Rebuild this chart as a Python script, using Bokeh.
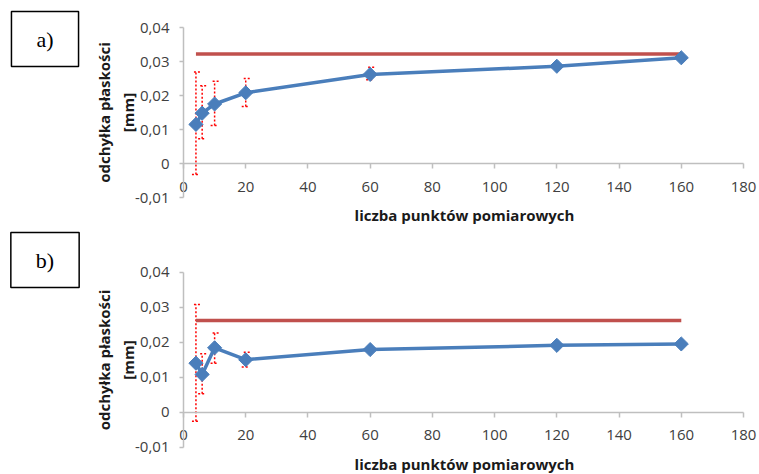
import numpy as np
from bokeh.plotting import figure
from bokeh.models import (Range1d, LinearAxis, FixedTicker, CustomJSTickFormatter,
                          Whisker, ColumnDataSource, Label, TeeHead)
from bokeh.layouts import column
from bokeh.embed import file_html
from bokeh.resources import INLINE

# ---- data ----
points = [4, 6, 10, 20, 60, 120, 160]

dev_a = [0.0115, 0.0148, 0.0175, 0.0208, 0.0262, 0.0286, 0.0311]
err_lo_a = [-0.0032, 0.0073, 0.0112, 0.0168, 0.0246, 0.0282, 0.0308]
err_hi_a = [0.0269, 0.0229, 0.0242, 0.0250, 0.0283, 0.0290, 0.0314]
limit_a = 0.0322

dev_b = [0.0140, 0.0108, 0.0184, 0.0150, 0.0179, 0.0191, 0.0195]
err_lo_b = [-0.0026, 0.0053, 0.0140, 0.0129, 0.0176, 0.0188, 0.0192]
err_hi_b = [0.0308, 0.0167, 0.0226, 0.0171, 0.0182, 0.0194, 0.0198]
limit_b = 0.0262

x_ticks = [0, 20, 40, 60, 80, 100, 120, 140, 160, 180]
y_ticks = [-0.01, 0.0, 0.01, 0.02, 0.03, 0.04]

x_title = "liczba punktów pomiarowych"
y_title = "odchyłka płaskości\n[mm]"
panel_tags = ["a)", "b)"]

BLUE = "#4A7EBB"
RED = "#C0504D"
ERR = "#FF0000"
TXT = "#404040"
AX = "#BFBFBF"
FONT = "Open Sans"
W = 759

fmt = CustomJSTickFormatter(code="""
if (Math.abs(tick) < 1e-9) return "0";
return tick.toFixed(2).replace(".", ",");
""")

# pixel layout of the plotting area (x: 0 -> 183 px, 180 -> 743 px)
X0_PX, X1_PX = 183.0, 743.0


def make_panel(tag, dev, lo, hi, limit, height, ytop_px, ybot_px, title_px, tag_box):
    xs = (X1_PX - X0_PX) / (x_ticks[-1] - x_ticks[0])
    ys = (ybot_px - ytop_px) / (y_ticks[-1] - y_ticks[0])
    def dx(px):
        return x_ticks[0] + (px - X0_PX) / xs
    def dy(py):
        return y_ticks[-1] - (py - ytop_px) / ys

    p = figure(width=W, height=height, output_backend="svg", toolbar_location=None,
               x_range=Range1d(dx(0), dx(W)), y_range=Range1d(dy(height), dy(0)),
               x_axis_location=None, y_axis_location=None,
               min_border=0, min_border_left=0, min_border_right=0,
               min_border_top=0, min_border_bottom=0)
    p.outline_line_color = None
    p.grid.visible = False
    p.background_fill_color = "white"
    p.border_fill_color = "white"

    # y axis crossing at x = 0
    ya = LinearAxis(fixed_location=x_ticks[0], bounds=(y_ticks[0], y_ticks[-1]),
                    ticker=FixedTicker(ticks=y_ticks), formatter=fmt)
    ya.axis_line_color = AX
    ya.axis_line_width = 1.5
    ya.major_tick_line_color = AX
    ya.major_tick_line_width = 1.5
    ya.major_tick_in = 0
    ya.major_tick_out = 4
    ya.minor_tick_line_color = None
    ya.major_label_standoff = 10
    ya.major_label_text_font = FONT
    ya.major_label_text_font_size = "15px"
    ya.major_label_text_color = TXT
    ya.axis_label = y_title
    ya.axis_label_text_font = FONT
    ya.axis_label_text_font_style = "bold"
    ya.axis_label_text_font_size = "15px"
    ya.axis_label_text_color = "#1a1a1a"
    ya.axis_label_standoff = -6
    p.add_layout(ya, "left")

    # x axis crossing at y = 0
    xa = LinearAxis(fixed_location=0, bounds=(x_ticks[0], x_ticks[-1]),
                    ticker=FixedTicker(ticks=x_ticks))
    xa.axis_line_color = AX
    xa.axis_line_width = 1.5
    xa.major_tick_line_color = AX
    xa.major_tick_line_width = 1.5
    xa.major_tick_in = 0
    xa.major_tick_out = 5
    xa.minor_tick_line_color = None
    xa.major_label_standoff = 13
    xa.major_label_text_font = FONT
    xa.major_label_text_font_size = "15px"
    xa.major_label_text_color = TXT
    p.add_layout(xa, "below")

    src = ColumnDataSource(dict(x=points, y=dev, lo=lo, hi=hi))

    # error bars
    w = Whisker(base="x", upper="hi", lower="lo", source=src,
                line_color=ERR, line_width=1.5, line_dash="2 2",
                upper_head=TeeHead(size=8, line_color=ERR, line_width=1.5, line_dash="2 2"),
                lower_head=TeeHead(size=8, line_color=ERR, line_width=1.5, line_dash="2 2"),
                level="underlay")
    p.add_layout(w)

    # limit line
    p.line(x=[points[0], points[-1]], y=[limit, limit], line_color=RED, line_width=3.5)

    # series
    p.line(x="x", y="y", source=src, line_color=BLUE, line_width=3.5)
    p.scatter(x="x", y="y", source=src, marker="square", angle=np.pi / 4, size=10,
              fill_color=BLUE, line_color=BLUE)

    # x title
    p.add_layout(Label(x=dx(464), y=dy(title_px), text=x_title, text_align="center",
                       text_baseline="middle", text_font=FONT, text_font_style="bold",
                       text_font_size="15px", text_color="#1a1a1a"))
    # panel tag box
    cx, cy = tag_box
    p.add_layout(Label(x=dx(cx), y=dy(cy), text=tag, text_align="center",
                       text_baseline="middle", text_font="Liberation Serif",
                       text_font_size="22px", text_color="black",
                       background_fill_color="white", border_line_color="black",
                       border_line_width=1.5, padding=(25, 15)))
    return p


p1 = make_panel(panel_tags[0], dev_a, err_lo_a, err_hi_a, limit_a, 230,
                27.0, 197.0, 214.0, (44.5, 38.5))
p2 = make_panel(panel_tags[1], dev_b, err_lo_b, err_hi_b, limit_b, 244,
                41.7, 216.7, 233.0, (44.5, 29.5))

layout = column(p1, p2, spacing=0)
open("out.html", "w").write(file_html(layout, INLINE))
